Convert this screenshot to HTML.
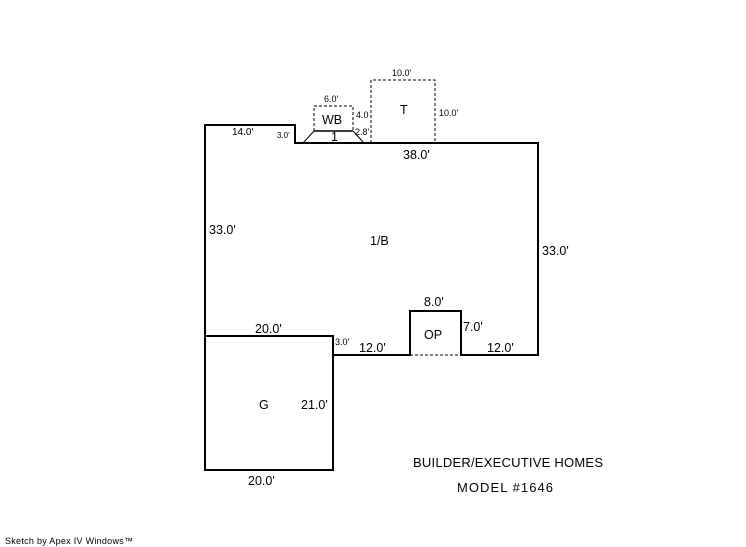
<!DOCTYPE html>
<html><head><style>
html,body{margin:0;padding:0;background:#fff;}
svg{display:block;font-family:"Liberation Sans",sans-serif;}
</style></head><body>
<svg width="746" height="547" viewBox="0 0 746 547" xmlns="http://www.w3.org/2000/svg">
<g fill="none" stroke="#000" stroke-width="2">
<polyline points="205,470 205,125 295,125 295,143 538,143 538,355 461,355 461,311 410,311 410,355 333,355 333,336 205,336"/>
<rect x="205" y="336" width="128" height="134"/>
</g>
<g fill="none" stroke="#000" stroke-width="1">
<line x1="314" y1="131" x2="353" y2="131" stroke-width="1.5"/>
<line x1="314" y1="131" x2="303" y2="143"/>
<line x1="353" y1="131" x2="364" y2="143"/>
<g stroke-dasharray="3,2">
<polyline points="314,131 314,106 353,106 353,131"/>
<polyline points="371,143 371,80 435,80 435,143"/>
<line x1="410" y1="355" x2="461" y2="355"/>
</g>
</g>
<g fill="#000" font-size="12.5">
<text x="232" y="135" font-size="10">14.0'</text>
<text x="277" y="138" font-size="8">3.0'</text>
<text x="324" y="102" font-size="9">6.0'</text>
<text x="322" y="124">WB</text>
<text x="331" y="141">1</text>
<text x="356" y="118" font-size="9">4.0</text>
<text x="355" y="135" font-size="9">2.8'</text>
<text x="392" y="76" font-size="9">10.0'</text>
<text x="400" y="114">T</text>
<text x="439" y="116" font-size="9">10.0'</text>
<text x="403" y="159">38.0'</text>
<text x="209" y="234">33.0'</text>
<text x="370" y="245">1/B</text>
<text x="542" y="255">33.0'</text>
<text x="424" y="306">8.0'</text>
<text x="463" y="331">7.0'</text>
<text x="424" y="339">OP</text>
<text x="487" y="352">12.0'</text>
<text x="359" y="352">12.0'</text>
<text x="335" y="345" font-size="9">3.0'</text>
<text x="255" y="333">20.0'</text>
<text x="259" y="409">G</text>
<text x="301" y="409">21.0'</text>
<text x="248" y="485">20.0'</text>
<text x="413" y="467" font-size="13" textLength="190">BUILDER/EXECUTIVE HOMES</text>
<text x="457" y="492" font-size="13" textLength="96">MODEL #1646</text>
<text x="5" y="544" font-size="9" textLength="128">Sketch by Apex IV Windows™</text>
</g>
</svg>
</body></html>
